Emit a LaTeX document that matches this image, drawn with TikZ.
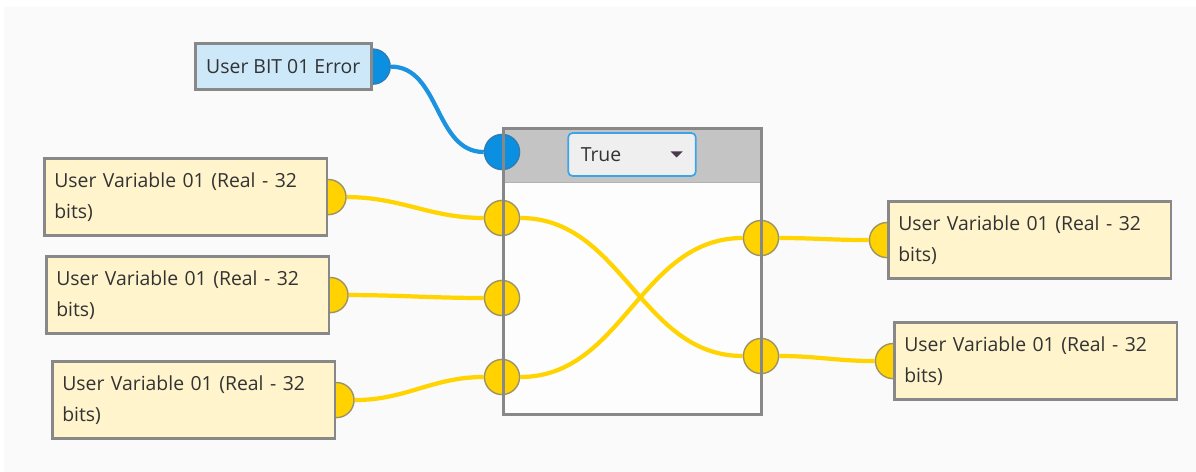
\documentclass[tikz,border=0pt]{standalone}
\usepackage{fontspec}
\setmainfont{Open Sans}
\usetikzlibrary{positioning, calc}

\definecolor{panelbg}{HTML}{FAFAFA}
\definecolor{varfill}{HTML}{FFF4CC}
\definecolor{bitfill}{HTML}{CCE8F9}
\definecolor{framegray}{HTML}{888888}
\definecolor{hdrgray}{HTML}{C4C4C4}
\definecolor{portyellow}{HTML}{FFD200}
\definecolor{portedge}{HTML}{9C9366}
\definecolor{wireyellow}{HTML}{FFD400}
\definecolor{portblue}{HTML}{0B8FE0}
\definecolor{bportedge}{HTML}{2F7DB5}
\definecolor{wireblue}{HTML}{1B93E0}
\definecolor{txtgray}{HTML}{333333}
\definecolor{comboblue}{HTML}{3DA5E6}
\definecolor{combofill}{HTML}{EFEFEF}
\definecolor{arrowdark}{HTML}{4B3850}

\pgfdeclarelayer{bg}
\pgfdeclarelayer{ports}
\pgfsetlayers{bg,ports,main}

\begin{document}
\begin{tikzpicture}[
    x=0.025cm, y=-0.025cm,
    box/.style={draw=framegray, line width=2pt, anchor=north west, inner xsep=7pt,
                align=left, text=txtgray, font=\fontsize{13.8}{22}\selectfont},
    varbox/.style={box, fill=varfill, minimum height=55pt, text width=187pt},
    bitbox/.style={box, fill=bitfill, minimum width=125pt, minimum height=33pt},
    yport/.style={circle, draw=portedge, line width=1pt, fill=portyellow,
                  minimum size=25pt, inner sep=0pt},
    bport/.style={circle, draw=bportedge, line width=1pt, fill=portblue,
                  minimum size=25pt, inner sep=0pt},
    ywire/.style={draw=wireyellow, line width=3pt, out=0, in=180},
    bwire/.style={draw=wireblue, line width=3pt, out=0, in=180}
]
    \useasboundingbox (0,0) rectangle (1196,472);

    % source and target boxes
    \node[bitbox] (bit)  at (194,42)  {User BIT 01 Error};
    \node[varbox] (vin1) at (43,157)  {User Variable 01 (Real - 32\\bits)};
    \node[varbox] (vin2) at (45,255)  {User Variable 01 (Real - 32\\bits)};
    \node[varbox] (vin3) at (51,360)  {User Variable 01 (Real - 32\\bits)};
    \node[varbox] (vout1) at (887,200) {User Variable 01 (Real - 32\\bits)};
    \node[varbox] (vout2) at (893,321) {User Variable 01 (Real - 32\\bits)};

    % switch block
    \node[draw=framegray, line width=2pt, anchor=north west, inner sep=0pt,
          minimum width=183.5pt, minimum height=203.4pt] (blk) at (502,127) {};
    \node[draw=comboblue, line width=1.2pt, fill=combofill, rounded corners=3pt,
          minimum width=90.7pt, minimum height=30.5pt] (sel) at (632,154.5) {};
    \node[right=6pt of sel.west, text=txtgray, font=\fontsize{13.8}{16}\selectfont] (seltxt) {True};
    \fill[arrowdark] ($(sel.east)+(-26,-3)$) -- ++(12,0) -- ++(-6,6) -- cycle;

    \begin{pgfonlayer}{bg}
        \fill[panelbg] (4,7) rectangle (1196,472);
        \fill[white!60!panelbg] (blk.north west) rectangle (blk.south east);
        \node[fill=hdrgray, anchor=north west, inner sep=0pt,
              minimum width=183.5pt, minimum height=39pt] (hdr) at (blk.north west) {};
        \draw[black!30, line width=0.6pt] (hdr.south west) -- (hdr.south east);
    \end{pgfonlayer}

    % ports
    \begin{pgfonlayer}{ports}
        \node[bport] (pbit)  at (bit.east)  {};
        \node[bport] (pbin)  at (502,152)   {};
        \node[yport] (pv1)   at (vin1.east) {};
        \node[yport] (pv2)   at (vin2.east) {};
        \node[yport] (pv3)   at (vin3.east) {};
        \node[yport] (pin1)  at (502,218)   {};
        \node[yport] (pin2)  at (502,298)   {};
        \node[yport] (pin3)  at (502,377)   {};
        \node[yport] (pout1) at (761,238)   {};
        \node[yport] (pout2) at (761,356)   {};
        \node[yport] (po1)   at (vout1.west) {};
        \node[yport] (po2)   at (vout2.west) {};
    \end{pgfonlayer}

    % wires
    \begin{pgfonlayer}{bg}
        \draw[bwire] (pbit) to (pbin);
        \draw[ywire] (pv1) to (pin1);
        \draw[ywire] (pv2) to (pin2);
        \draw[ywire] (pv3) to (pin3);
        \draw[ywire] (pin1) to (pout2);
        \draw[ywire] (pin3) to (pout1);
        \draw[ywire] (pout1) to (po1);
        \draw[ywire] (pout2) to (po2);
    \end{pgfonlayer}
\end{tikzpicture}
\end{document}
